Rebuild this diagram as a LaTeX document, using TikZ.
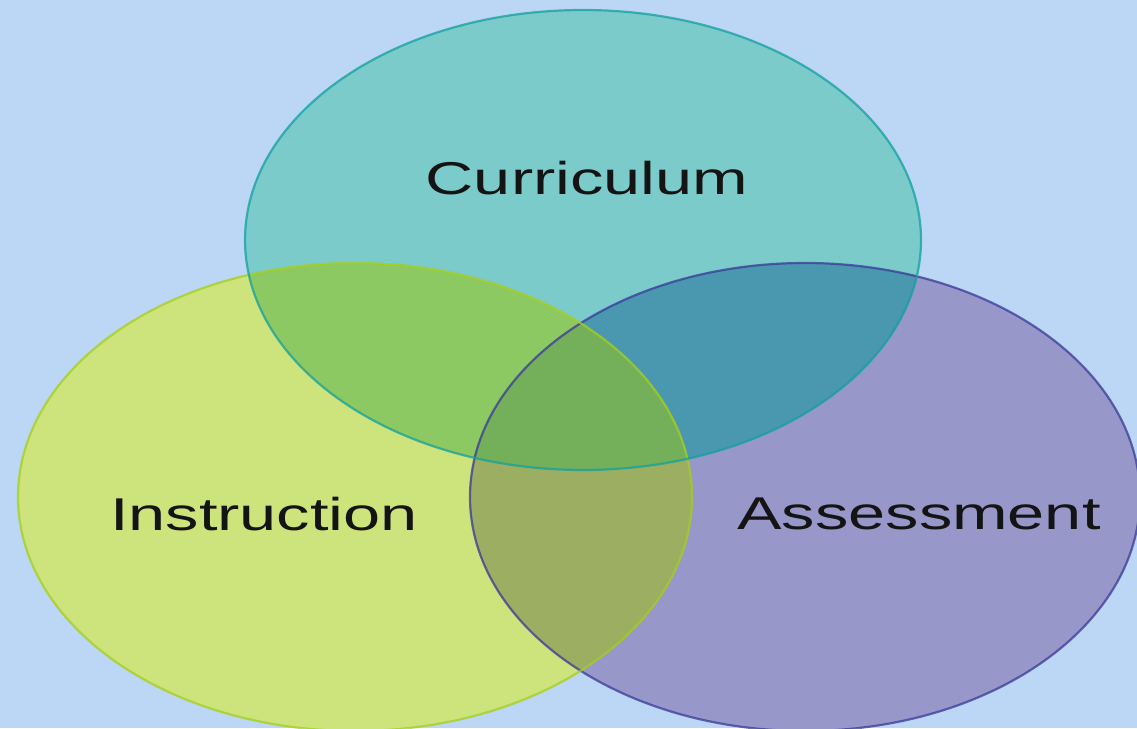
\documentclass[tikz,border=0pt]{standalone}
\usepackage{fontspec}
\setmainfont{Liberation Sans}
\definecolor{bgc}{HTML}{BBD7F5}
\definecolor{curc}{HTML}{7ACBCA}
\definecolor{insc}{HTML}{CDE37C}
\definecolor{assc}{HTML}{9897CA}
\definecolor{ci}{HTML}{8DC962}
\definecolor{ca}{HTML}{4A98B0}
\definecolor{ia}{HTML}{9CAE62}
\definecolor{cia}{HTML}{74B05A}
\definecolor{curb}{HTML}{13A09E}
\definecolor{insb}{HTML}{A5CF1A}
\definecolor{assb}{HTML}{3A3A9A}
\definecolor{txt}{HTML}{141414}
\begin{document}
\begin{tikzpicture}[x=1pt,y=1pt,
  lbl/.style={font=\fontsize{46}{50}\selectfont, text=txt, inner sep=0pt},
  rim/.style={line width=2.2pt, opacity=0.75}]
\useasboundingbox (0,0) rectangle (1137,728);
\fill[bgc] (0,0) rectangle (1137,728);
\def\curpath{(583,488) ellipse [x radius=338, y radius=230]}
\def\inspath{(355,231) ellipse [x radius=337, y radius=234]}
\def\asspath{(805,231) ellipse [x radius=335, y radius=234]}
\fill[curc] \curpath;
\fill[insc] \inspath;
\fill[assc] \asspath;
\begin{scope}
  \clip \curpath;
  \fill[ci] \inspath;
  \fill[ca] \asspath;
\end{scope}
\begin{scope}
  \clip \inspath;
  \fill[ia] \asspath;
\end{scope}
\begin{scope}
  \clip \curpath;
  \clip \inspath;
  \fill[cia] \asspath;
\end{scope}
\draw[rim, assb] \asspath;
\draw[rim, insb] \inspath;
\draw[rim, curb] \curpath;
\node[lbl] (cur) at (587,550) {\scalebox{1.45}[1]{Curriculum}};
\node[lbl] (ins) at (264,214) {\scalebox{1.45}[1]{Instruction}};
\node[lbl] (ass) at (919,214) {\scalebox{1.45}[1]{Assessment}};
\end{tikzpicture}
\end{document}
